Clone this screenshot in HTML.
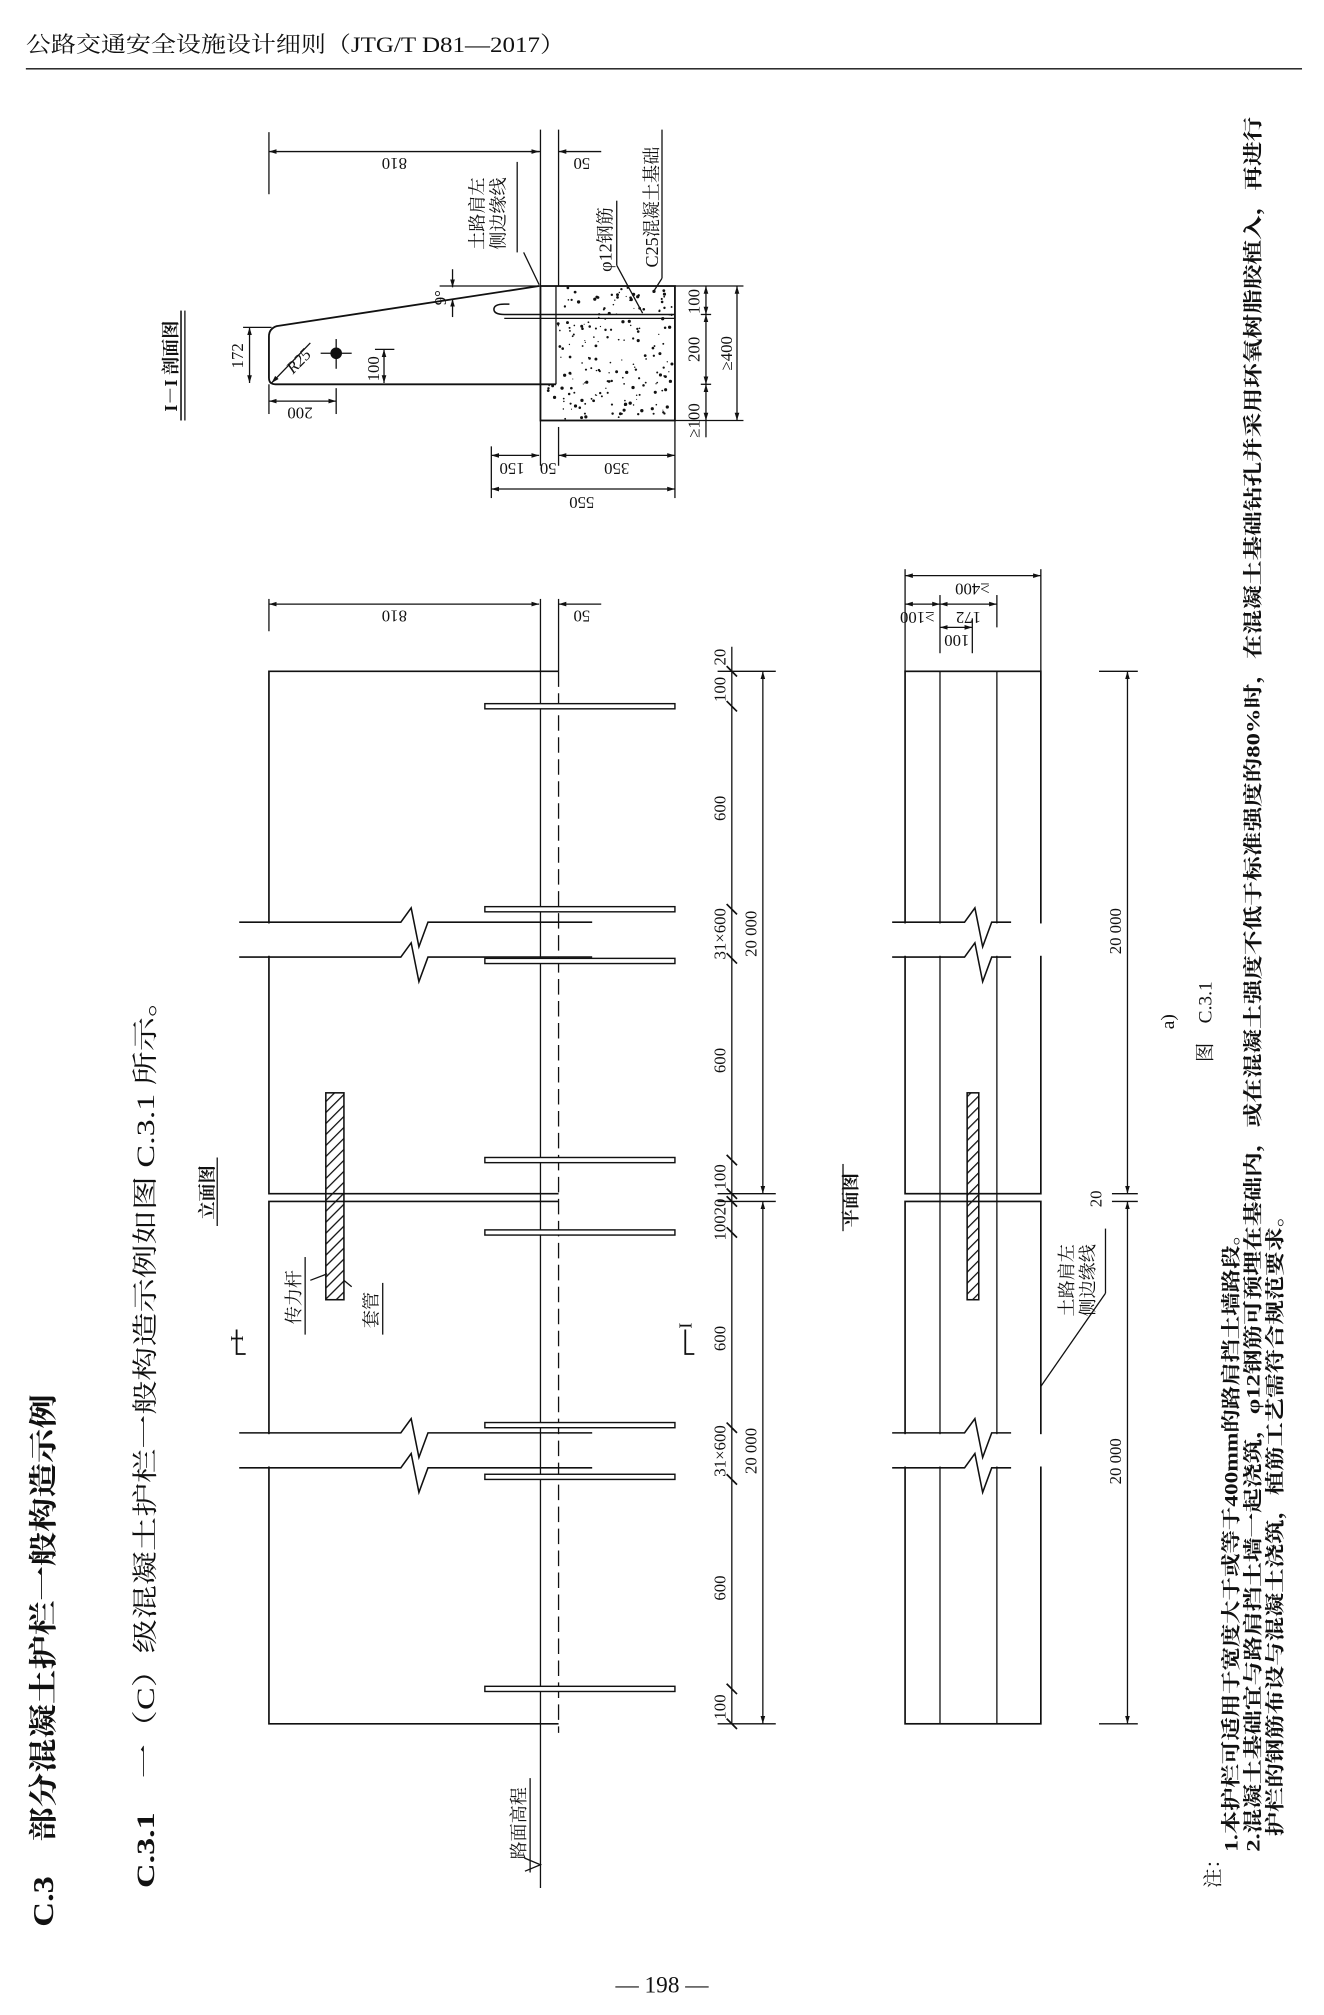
<!DOCTYPE html>
<html><head><meta charset="utf-8"><style>
html,body{margin:0;padding:0;background:#fff}
svg{display:block}
text{font-family:"Liberation Serif","Noto Serif CJK SC","Noto Sans CJK SC",serif;fill:#111}
.cn{font-family:"Liberation Serif","Noto Serif CJK SC",serif}
.hd{font-family:"Liberation Serif","Noto Serif CJK SC",serif}
</style></head><body>
<svg id="s" width="1324" height="2015" viewBox="0 0 1024 1558" xmlns="http://www.w3.org/2000/svg">
<defs>
<marker id="a" viewBox="0 0 10 10" refX="10" refY="5" markerWidth="6" markerHeight="6" orient="auto-start-reverse"><path d="M0,2 L10,5 L0,8 z" fill="#111"/></marker>
<pattern id="h" width="6" height="6" patternUnits="userSpaceOnUse" patternTransform="rotate(45)"><line x1="0" y1="0" x2="0" y2="6" stroke="#111" stroke-width="2"/></pattern>
</defs>
<g stroke="#111" fill="none" stroke-width="1">
<line x1="20" y1="53" x2="1007" y2="53" stroke-width="1"/>

<!-- ===== Section I-I ===== -->
<path d="M417,221 L214,252 Q208,254 208,260 L208,292 Q208,297 213,297 L430,297" stroke-width="1.4"/>
<rect x="418" y="221" width="104" height="104" stroke-width="1.4"/>
<line x1="430" y1="221" x2="430" y2="297"/>
<line x1="418" y1="100" x2="418" y2="221"/>
<line x1="432" y1="100" x2="432" y2="221"/>
<path d="M522,243 L390,243 Q382,243 382,239 Q382,235 390,235 L394,235" stroke-width="1.2"/>
<line x1="390" y1="246" x2="522" y2="246" stroke-width="1"/>
<line x1="208" y1="102" x2="208" y2="150"/>
<line x1="208" y1="117" x2="417" y2="117" marker-start="url(#a)" marker-end="url(#a)"/>
<line x1="432" y1="117" x2="465" y2="117" marker-start="url(#a)"/>
<line x1="418" y1="117" x2="410" y2="117"/>
<circle cx="260" cy="273" r="4" fill="#111"/>
<line x1="248" y1="273" x2="272" y2="273"/><line x1="260" y1="262" x2="260" y2="285"/>
<line x1="240" y1="265" x2="210" y2="296" marker-end="url(#a)"/>
<line x1="193" y1="253" x2="193" y2="296" marker-start="url(#a)" marker-end="url(#a)"/>
<line x1="188" y1="253" x2="210" y2="253"/>
<line x1="297" y1="270" x2="297" y2="296" marker-start="url(#a)" marker-end="url(#a)"/>
<line x1="290" y1="270" x2="305" y2="270"/>
<line x1="208" y1="297" x2="208" y2="320"/><line x1="260" y1="300" x2="260" y2="320"/>
<line x1="208" y1="310" x2="260" y2="310" marker-start="url(#a)" marker-end="url(#a)"/>
<line x1="350" y1="208" x2="350" y2="222" marker-end="url(#a)"/>
<line x1="350" y1="245" x2="350" y2="231" marker-end="url(#a)"/>
<line x1="340" y1="221" x2="418" y2="221"/>
<line x1="522" y1="221" x2="575" y2="221"/>
<line x1="522" y1="325" x2="575" y2="325"/>
<line x1="546" y1="221" x2="546" y2="243" marker-start="url(#a)" marker-end="url(#a)"/>
<line x1="546" y1="243" x2="546" y2="297" marker-start="url(#a)" marker-end="url(#a)"/>
<line x1="546" y1="297" x2="546" y2="325" marker-start="url(#a)" marker-end="url(#a)"/>
<line x1="542" y1="243" x2="550" y2="243"/><line x1="542" y1="297" x2="550" y2="297"/>
<line x1="546" y1="325" x2="546" y2="338"/>
<line x1="570" y1="221" x2="570" y2="325" marker-start="url(#a)" marker-end="url(#a)"/>
<line x1="380" y1="345" x2="380" y2="385"/><line x1="418" y1="325" x2="418" y2="360"/><line x1="432" y1="330" x2="432" y2="360"/><line x1="522" y1="325" x2="522" y2="385"/>
<line x1="380" y1="352" x2="417" y2="352" marker-start="url(#a)" marker-end="url(#a)"/>
<line x1="432" y1="352" x2="522" y2="352" marker-start="url(#a)" marker-end="url(#a)"/>
<line x1="380" y1="378" x2="522" y2="378" marker-start="url(#a)" marker-end="url(#a)"/>
<line x1="405" y1="195" x2="417" y2="220"/>
<line x1="477" y1="205" x2="497" y2="242"/>
<line x1="512" y1="100" x2="512" y2="215"/><line x1="512" y1="215" x2="505" y2="226"/>
<line x1="477" y1="155" x2="477" y2="205"/>
<line x1="400" y1="125" x2="400" y2="195"/>
<line x1="140" y1="240" x2="140" y2="325" stroke-width="1.2"/><line x1="143" y1="240" x2="143" y2="325"/>
<g id="dots" stroke="none" fill="#111"></g>

<!-- ===== Elevation ===== -->
<line x1="208" y1="463" x2="208" y2="488"/><line x1="418" y1="463" x2="418" y2="519"/><line x1="432" y1="463" x2="432" y2="519"/>
<line x1="208" y1="467" x2="417" y2="467" marker-start="url(#a)" marker-end="url(#a)"/>
<line x1="432" y1="467" x2="465" y2="467" marker-start="url(#a)"/>
<path d="M432,519 L208,519 L208,923 L432,923" stroke-width="1.3"/>
<path d="M432,929 L208,929 L208,1333 L432,1333" stroke-width="1.3"/>
<line x1="418" y1="519" x2="418" y2="1460"/>
<line x1="432" y1="519" x2="432" y2="1340" stroke-dasharray="12,5"/>
<g fill="#fff">
<rect x="186" y="714" width="225" height="25" stroke="none"/>
<rect x="186" y="1109" width="225" height="25" stroke="none"/>
</g>
<path d="M185,713 L310,713 L318,702 L324,732 L331,713 L458,713" stroke-width="1.2"/>
<path d="M185,740 L310,740 L318,729 L324,759 L331,740 L458,740" stroke-width="1.2"/>
<path d="M185,1108 L310,1108 L318,1097 L324,1127 L331,1108 L458,1108" stroke-width="1.2"/>
<path d="M185,1135 L310,1135 L318,1124 L324,1154 L331,1135 L458,1135" stroke-width="1.2"/>
<g fill="#fff" stroke-width="1.1">
<rect x="375" y="544" width="147" height="4"/>
<rect x="375" y="701" width="147" height="4"/>
<rect x="375" y="741" width="147" height="4"/>
<rect x="375" y="895" width="147" height="4"/>
<rect x="375" y="951" width="147" height="4"/>
<rect x="375" y="1100" width="147" height="4"/>
<rect x="375" y="1140" width="147" height="4"/>
<rect x="375" y="1304" width="147" height="4"/>
</g>
<rect x="252" y="845" width="14" height="160" fill="url(#h)" stroke-width="1.2"/>
<line x1="240" y1="990" x2="253" y2="985"/>
<line x1="272" y1="995" x2="266" y2="990"/>
<g>
<line x1="566" y1="500" x2="566" y2="1333"/>
<line x1="555" y1="519" x2="600" y2="519"/><line x1="555" y1="1333" x2="600" y2="1333"/>
<line x1="555" y1="923" x2="600" y2="923"/><line x1="555" y1="929" x2="600" y2="929"/>
<line x1="590" y1="519" x2="590" y2="923" marker-start="url(#a)" marker-end="url(#a)"/>
<line x1="590" y1="929" x2="590" y2="1333" marker-start="url(#a)" marker-end="url(#a)"/>
<g stroke-width="1.3">
<path d="M562,515 L570,523 M562,542 L570,550 M562,699 L570,707 M562,737 L570,745 M562,893 L570,901 M562,919 L570,927 M562,925 L570,933 M562,949 L570,957 M562,1100 L570,1108 M562,1140 L570,1148 M562,1302 L570,1310 M562,1329 L570,1337"/>
</g>
</g>

<!-- ===== Plan ===== -->
<line x1="700" y1="440" x2="700" y2="519"/><line x1="805" y1="440" x2="805" y2="519"/>
<line x1="727" y1="460" x2="727" y2="505"/><line x1="771" y1="460" x2="771" y2="485"/><line x1="752" y1="478" x2="752" y2="505"/>
<line x1="700" y1="445" x2="805" y2="445" marker-start="url(#a)" marker-end="url(#a)"/>
<line x1="700" y1="467" x2="727" y2="467" marker-start="url(#a)" marker-end="url(#a)"/>
<line x1="727" y1="467" x2="771" y2="467" marker-start="url(#a)" marker-end="url(#a)"/>
<line x1="727" y1="485" x2="752" y2="485" marker-start="url(#a)" marker-end="url(#a)"/>
<rect x="700" y="519" width="105" height="404" stroke-width="1.3"/>
<rect x="700" y="929" width="105" height="404" stroke-width="1.3"/>
<line x1="727" y1="519" x2="727" y2="1333"/><line x1="771" y1="519" x2="771" y2="1333"/>
<rect x="690" y="714" width="120" height="25" fill="#fff" stroke="none"/>
<rect x="690" y="1109" width="120" height="25" fill="#fff" stroke="none"/>
<path d="M690,713 L746,713 L754,702 L760,732 L767,713 L782,713" stroke-width="1.2"/>
<path d="M690,740 L746,740 L754,729 L760,759 L767,740 L782,740" stroke-width="1.2"/>
<path d="M690,1108 L746,1108 L754,1097 L760,1127 L767,1108 L782,1108" stroke-width="1.2"/>
<path d="M690,1135 L746,1135 L754,1124 L760,1154 L767,1135 L782,1135" stroke-width="1.2"/>
<rect x="748" y="845" width="9" height="160" fill="url(#h)" stroke-width="1.2"/>
<line x1="805" y1="1072" x2="855" y2="1000"/><line x1="855" y1="1000" x2="855" y2="950"/>
<line x1="850" y1="519" x2="880" y2="519"/><line x1="850" y1="1333" x2="880" y2="1333"/>
<line x1="860" y1="923" x2="880" y2="923"/><line x1="860" y1="929" x2="880" y2="929"/>
<line x1="872" y1="519" x2="872" y2="923" marker-start="url(#a)" marker-end="url(#a)"/>
<line x1="872" y1="929" x2="872" y2="1333" marker-start="url(#a)" marker-end="url(#a)"/>
<path d="M183,1028 L183,1047 L190,1047" stroke-width="1.4"/>
<path d="M530,1028 L530,1047 L537,1047" stroke-width="1.4"/>
<line x1="410" y1="1375" x2="410" y2="1448"/>
<path d="M406,1447 L418,1442 L406,1437"/>
<line x1="652" y1="900" x2="652" y2="952"/><line x1="168" y1="895" x2="168" y2="948"/>
<line x1="236" y1="972" x2="236" y2="1032"/><line x1="296" y1="992" x2="296" y2="1032"/>
</g>

<text x="20" y="40" font-size="17" class="hd" textLength="417" lengthAdjust="spacingAndGlyphs">公路交通安全设施设计细则（JTG/T D81—2017）</text>
<text x="512" y="1541" font-size="18" text-anchor="middle">— 198 —</text>

<g font-size="13">
<text transform="translate(305,122) rotate(180)" text-anchor="middle">810</text>
<text transform="translate(450,122) rotate(180)" text-anchor="middle">50</text>
<text transform="translate(305,472) rotate(180)" text-anchor="middle">810</text>
<text transform="translate(450,472) rotate(180)" text-anchor="middle">50</text>
<text transform="translate(232,315) rotate(180)" text-anchor="middle">200</text>
<text transform="translate(396,358) rotate(180)" text-anchor="middle">150</text>
<text transform="translate(424,358) rotate(180)" text-anchor="middle">50</text>
<text transform="translate(477,358) rotate(180)" text-anchor="middle">350</text>
<text transform="translate(450,384) rotate(180)" text-anchor="middle">550</text>
<text transform="translate(752,451) rotate(180)" text-anchor="middle">≥400</text>
<text transform="translate(749,473) rotate(180)" text-anchor="middle">172</text>
<text transform="translate(696,473) rotate(180)" text-anchor="end">≥100</text>
<text transform="translate(740,491) rotate(180)" text-anchor="middle">100</text>
<text transform="translate(188,275) rotate(-90)" text-anchor="middle">172</text>
<text transform="translate(293,285) rotate(-90)" text-anchor="middle">100</text>
<text transform="translate(234,282) rotate(-45)" text-anchor="middle" font-style="italic">R25</text>
<text transform="translate(345,230) rotate(-90)" text-anchor="middle">9°</text>
<text transform="translate(541,233) rotate(-90)" text-anchor="middle">100</text>
<text transform="translate(541,270) rotate(-90)" text-anchor="middle">200</text>
<text transform="translate(541,325) rotate(-90)" text-anchor="middle">≥100</text>
<text transform="translate(566,273) rotate(-90)" text-anchor="middle">≥400</text>
<text transform="translate(561,508) rotate(-90)" text-anchor="middle">20</text>
<text transform="translate(561,533) rotate(-90)" text-anchor="middle">100</text>
<text transform="translate(561,625) rotate(-90)" text-anchor="middle">600</text>
<text transform="translate(561,722) rotate(-90)" text-anchor="middle">31×600</text>
<text transform="translate(585,722) rotate(-90)" text-anchor="middle">20 000</text>
<text transform="translate(561,820) rotate(-90)" text-anchor="middle">600</text>
<text transform="translate(561,910) rotate(-90)" text-anchor="middle">100</text>
<text transform="translate(561,943) rotate(-90)" text-anchor="middle">10020</text>
<text transform="translate(561,1035) rotate(-90)" text-anchor="middle">600</text>
<text transform="translate(561,1122) rotate(-90)" text-anchor="middle">31×600</text>
<text transform="translate(585,1122) rotate(-90)" text-anchor="middle">20 000</text>
<text transform="translate(561,1228) rotate(-90)" text-anchor="middle">600</text>
<text transform="translate(561,1320) rotate(-90)" text-anchor="middle">100</text>
<text transform="translate(867,720) rotate(-90)" text-anchor="middle">20 000</text>
<text transform="translate(867,1130) rotate(-90)" text-anchor="middle">20 000</text>
<text transform="translate(852,927) rotate(-90)" text-anchor="middle">20</text>
</g>
<g font-size="14" class="cn">
<text transform="translate(374,165) rotate(-90)" text-anchor="middle">土路肩左</text>
<text transform="translate(390,165) rotate(-90)" text-anchor="middle">侧边缘线</text>
<text transform="translate(473,185) rotate(-90)" text-anchor="middle">φ12钢筋</text>
<text transform="translate(509,160) rotate(-90)" text-anchor="middle">C25混凝土基础</text>
<text transform="translate(137,283) rotate(-90)" text-anchor="middle" font-weight="bold">I－I 剖面图</text>
<text transform="translate(165,922) rotate(-90)" text-anchor="middle" font-weight="bold">立面图</text>
<text transform="translate(663,928) rotate(-90)" text-anchor="middle" font-weight="bold">平面图</text>
<text transform="translate(232,1003) rotate(-90)" text-anchor="middle">传力杆</text>
<text transform="translate(292,1013) rotate(-90)" text-anchor="middle">套管</text>
<text transform="translate(830,990) rotate(-90)" text-anchor="middle">土路肩左</text>
<text transform="translate(846,990) rotate(-90)" text-anchor="middle">侧边缘线</text>
<text transform="translate(406,1410) rotate(-90)" text-anchor="middle">路面高程</text>
<text transform="translate(188,1035) rotate(-90)" text-anchor="middle">I</text>
<text transform="translate(535,1025) rotate(-90)" text-anchor="middle">I</text>
<text transform="translate(908,790) rotate(-90)" text-anchor="middle" font-size="15">a)</text>
<text transform="translate(937,790) rotate(-90)" text-anchor="middle" font-size="15">图　C.3.1</text>
</g>
<g class="cn">
<text transform="translate(41,1490) rotate(-90)" font-size="22" font-weight="bold" textLength="412" lengthAdjust="spacingAndGlyphs">C.3　部分混凝土护栏一般构造示例</text>
<text transform="translate(119,1460) rotate(-90)" font-size="20" textLength="700" lengthAdjust="spacingAndGlyphs"><tspan font-weight="bold">C.3.1</tspan>　一（C）级混凝土护栏一般构造示例如图 C.3.1 所示。</text>
<text transform="translate(943,1460) rotate(-90)" font-size="15">注：</text>
<text transform="translate(957,1432) rotate(-90)" font-size="15" font-weight="bold" textLength="487" lengthAdjust="spacingAndGlyphs">1.本护栏可适用于宽度大于或等于400mm的路肩挡土墙路段。</text>
<text transform="translate(974,1432) rotate(-90)" font-size="15" font-weight="bold" textLength="1342" lengthAdjust="spacingAndGlyphs">2.混凝土基础宜与路肩挡土墙一起浇筑，φ12钢筋可预埋在基础内，或在混凝土强度不低于标准强度的80%时，在混凝土基础钻孔并采用环氧树脂胶植入，再进行</text>
<text transform="translate(991,1420) rotate(-90)" font-size="15" font-weight="bold" textLength="490" lengthAdjust="spacingAndGlyphs">护栏的钢筋布设与混凝土浇筑，植筋工艺需符合规范要求。</text>
</g>
</svg>
<script>
(function(){var g=document.getElementById('dots'),s=12345;function r(){s=(s*16807)%2147483647;return s/2147483647;}
var n='http://www.w3.org/2000/svg';for(var i=0;i<220;i++){var x=419+r()*102,y=222+r()*102;if(x<431&&y<297)continue;var c=document.createElementNS(n,'circle');c.setAttribute('cx',x.toFixed(1));c.setAttribute('cy',y.toFixed(1));c.setAttribute('r',(0.4+r()*0.9).toFixed(2));g.appendChild(c);}})();
</script>
</body></html>
